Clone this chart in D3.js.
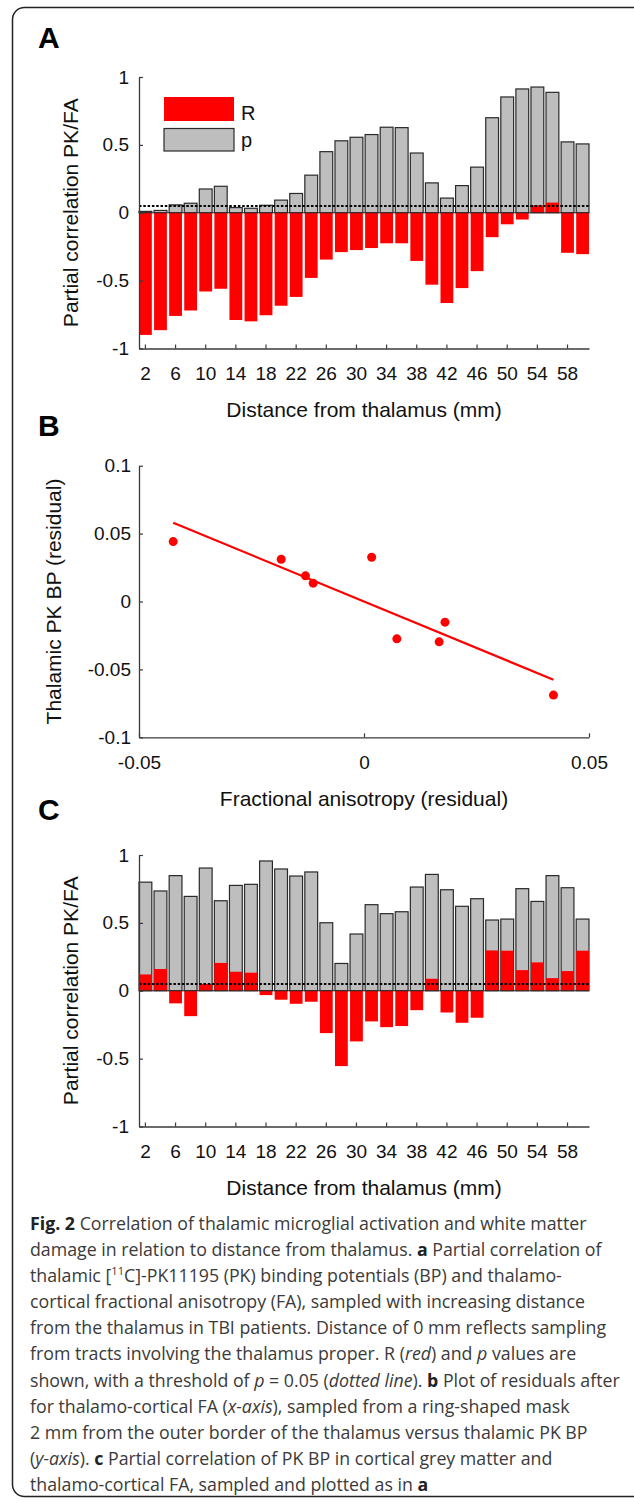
<!DOCTYPE html>
<html>
<head>
<meta charset="utf-8">
<script src="https://cdn.jsdelivr.net/npm/d3@7"></script>
<style>
  html, body { margin: 0; padding: 0; background: #fff; }
  svg text { font-family: "Liberation Sans", Arial, sans-serif; }
</style>
</head>
<body>
<div id="fig"></div>
<script>
// distance of each sampled ring from the thalamus (mm), one bar each
var distances = [2, 4, 6, 8, 10, 12, 14, 16, 18, 20, 22, 24, 26, 28, 30,
                 32, 34, 36, 38, 40, 42, 44, 46, 48, 50, 52, 54, 56, 58, 60];
var distanceTicks = [2, 6, 10, 14, 18, 22, 26, 30, 34, 38, 42, 46, 50, 54, 58];

// panel A - thalamic PK vs thalamo-cortical FA
var rThalamic = [-0.90, -0.865, -0.76, -0.72, -0.58, -0.56, -0.79, -0.80, -0.755, -0.685,
                 -0.62, -0.48, -0.345, -0.29, -0.275, -0.26, -0.225, -0.225, -0.355, -0.53,
                 -0.665, -0.555, -0.43, -0.18, -0.085, -0.05, 0.055, 0.075, -0.295, -0.305];
var pThalamic = [0.01, 0.017, 0.058, 0.07, 0.175, 0.195, 0.038, 0.033, 0.055, 0.093,
                 0.142, 0.277, 0.45, 0.53, 0.556, 0.576, 0.63, 0.627, 0.44, 0.22,
                 0.108, 0.2, 0.336, 0.70, 0.853, 0.912, 0.926, 0.887, 0.522, 0.507];

// panel C - cortical grey matter PK vs thalamo-cortical FA
var rCortical = [0.12, 0.16, -0.093, -0.187, 0.05, 0.205, 0.14, 0.133, -0.032, -0.066,
                 -0.096, -0.081, -0.312, -0.555, -0.373, -0.226, -0.268, -0.26, -0.143, 0.088,
                 -0.16, -0.236, -0.199, 0.297, 0.295, 0.152, 0.209, 0.093, 0.145, 0.295];
var pCortical = [0.80, 0.735, 0.848, 0.695, 0.904, 0.663, 0.776, 0.784, 0.956, 0.897,
                 0.845, 0.875, 0.501, 0.201, 0.418, 0.634, 0.568, 0.582, 0.764, 0.857,
                 0.744, 0.622, 0.678, 0.521, 0.528, 0.752, 0.658, 0.848, 0.759, 0.528];

var pThreshold = 0.05;
var corrTicks = [-1, -0.5, 0, 0.5, 1];

// panel B - residuals, 2 mm ring
var faResid = [-0.0424, -0.0184, -0.0130, -0.0113, 0.0017, 0.0073, 0.0167, 0.0180, 0.0421];
var bpResid = [0.0441, 0.0311, 0.0189, 0.0135, 0.0326, -0.0275, -0.0297, -0.0152, -0.0689];
var faTicks = [-0.05, 0, 0.05];
var bpTicks = [-0.1, -0.05, 0, 0.05, 0.1];

var W = 634, H = 1506;
var axLeft = 139, axRight = 589;
var axisColor = "#3a3a3a";

var svg = d3.select("#fig").append("svg")
    .attr("width", W)
    .attr("height", H);

svg.append("rect").attr("width", W).attr("height", H).attr("fill", "#fff");

// rounded frame, right edge runs off the page
svg.append("rect")
    .attr("x", 12.5).attr("y", 7.5)
    .attr("width", 700).attr("height", 1489)
    .attr("rx", 12)
    .attr("fill", "none")
    .attr("stroke", "#222")
    .attr("stroke-width", 1.5);

var x = d3.scaleBand()
    .domain(distances)
    .range([axLeft, axRight])
    .paddingInner(0.15)
    .paddingOuter(0);

function styleAxis(g) {
    g.select(".domain").attr("stroke", axisColor).attr("stroke-width", 1.3);
    g.selectAll(".tick line").attr("stroke", axisColor).attr("stroke-width", 1.2);
    g.selectAll(".tick text").attr("fill", "#111").style("font-size", "19px")
        .style("font-family", '"Liberation Sans", Arial, sans-serif');
}

function panelLetter(txt, yBase) {
    svg.append("text")
        .attr("x", 38).attr("y", yBase)
        .style("font-size", "30px").style("font-weight", "bold")
        .attr("fill", "#000")
        .text(txt);
}

function barPanel(top, rVals, pVals, withLegend) {
    var y = d3.scaleLinear().domain([-1, 1]).range([top + 271.5, top]);
    var g = svg.append("g");

    g.selectAll("rect.pbar")
        .data(pVals)
        .enter().append("rect")
        .attr("class", "pbar")
        .attr("x", function(d, i) { return x(distances[i]); })
        .attr("width", x.bandwidth())
        .attr("y", function(d) { return y(d); })
        .attr("height", function(d) { return y(0) - y(d); })
        .attr("fill", "#bebebe")
        .attr("stroke", "#2a2a2a")
        .attr("stroke-width", 1.2);

    g.selectAll("rect.rbar")
        .data(rVals)
        .enter().append("rect")
        .attr("class", "rbar")
        .attr("x", function(d, i) { return x(distances[i]); })
        .attr("width", x.bandwidth())
        .attr("y", function(d) { return y(Math.max(0, d)); })
        .attr("height", function(d) { return Math.abs(y(d) - y(0)); })
        .attr("fill", "#ff0000");

    // zero line
    g.append("line")
        .attr("x1", axLeft).attr("x2", axRight)
        .attr("y1", y(0)).attr("y2", y(0))
        .attr("stroke", "#2a2a2a").attr("stroke-width", 1.2);

    // p = 0.05 threshold
    g.append("line")
        .attr("x1", axLeft).attr("x2", axRight)
        .attr("y1", y(pThreshold)).attr("y2", y(pThreshold))
        .attr("stroke", "#000").attr("stroke-width", 2)
        .attr("stroke-dasharray", "2.5,1.8");

    var yAxis = g.append("g")
        .attr("transform", "translate(" + axLeft + ",0)")
        .call(d3.axisLeft(y).tickValues(corrTicks).tickSizeInner(-4).tickSizeOuter(0)
            .tickPadding(10).tickFormat(function(d) { return String(d); }));
    styleAxis(yAxis);

    var xAxis = g.append("g")
        .attr("transform", "translate(0," + y(-1) + ")")
        .call(d3.axisBottom(x).tickValues(distanceTicks).tickSizeInner(-4).tickSizeOuter(0)
            .tickPadding(18));
    styleAxis(xAxis);

    g.append("text")
        .attr("transform", "translate(78," + y(0) + ") rotate(-90)")
        .attr("text-anchor", "middle")
        .style("font-size", "21px")
        .attr("fill", "#111")
        .text("Partial correlation PK/FA");

    g.append("text")
        .attr("x", (axLeft + axRight) / 2)
        .attr("y", y(-1) + 68)
        .attr("text-anchor", "middle")
        .style("font-size", "21px")
        .attr("fill", "#111")
        .text("Distance from thalamus (mm)");

    if (withLegend) {
        var leg = g.append("g").attr("transform", "translate(164," + (top + 20) + ")");
        leg.append("rect").attr("x", 0).attr("y", 0).attr("width", 70).attr("height", 24)
            .attr("fill", "#ff0000");
        leg.append("rect").attr("x", 0).attr("y", 31.5).attr("width", 70).attr("height", 22.5)
            .attr("fill", "#bebebe").attr("stroke", "#2a2a2a").attr("stroke-width", 1.2);
        leg.append("text").attr("x", 77).attr("y", 22.5)
            .style("font-size", "20px").attr("fill", "#111").text("R");
        leg.append("text").attr("x", 77).attr("y", 50)
            .style("font-size", "20px").attr("fill", "#111").text("p");
    }
}

// ---- panel A ----
panelLetter("A", 48);
barPanel(77, rThalamic, pThalamic, true);

// ---- panel B ----
panelLetter("B", 436);
(function() {
    var bx = d3.scaleLinear().domain([-0.05, 0.05]).range([axLeft, axRight]);
    var by = d3.scaleLinear().domain([-0.1, 0.1]).range([737.3, 465.7]);
    var g = svg.append("g");

    // least squares fit through the residuals
    var mx = d3.mean(faResid), my = d3.mean(bpResid);
    var sxy = d3.sum(faResid, function(v, i) { return (v - mx) * (bpResid[i] - my); });
    var sxx = d3.sum(faResid, function(v) { return (v - mx) * (v - mx); });
    var slope = sxy / sxx, icpt = my - slope * mx;
    var ext = d3.extent(faResid);

    g.append("line")
        .attr("x1", bx(ext[0])).attr("y1", by(icpt + slope * ext[0]))
        .attr("x2", bx(ext[1])).attr("y2", by(icpt + slope * ext[1]))
        .attr("stroke", "#ff0000").attr("stroke-width", 2.2);

    g.selectAll("circle")
        .data(faResid)
        .enter().append("circle")
        .attr("cx", function(d) { return bx(d); })
        .attr("cy", function(d, i) { return by(bpResid[i]); })
        .attr("r", 4.5)
        .attr("fill", "#ff0000");

    var yAxis = g.append("g")
        .attr("transform", "translate(" + axLeft + ",0)")
        .call(d3.axisLeft(by).tickValues(bpTicks).tickSizeInner(-4).tickSizeOuter(0)
            .tickPadding(8).tickFormat(function(d) { return String(d); }));
    styleAxis(yAxis);

    var xAxis = g.append("g")
        .attr("transform", "translate(0," + by(-0.1) + ")")
        .call(d3.axisBottom(bx).tickValues(faTicks).tickSizeInner(-4).tickSizeOuter(0)
            .tickPadding(18).tickFormat(function(d) { return String(d); }));
    styleAxis(xAxis);

    g.append("text")
        .attr("transform", "translate(61," + by(0) + ") rotate(-90)")
        .attr("text-anchor", "middle")
        .style("font-size", "21px")
        .attr("fill", "#111")
        .text("Thalamic PK BP (residual)");

    g.append("text")
        .attr("x", (axLeft + axRight) / 2)
        .attr("y", 806)
        .attr("text-anchor", "middle")
        .style("font-size", "21px")
        .attr("fill", "#111")
        .text("Fractional anisotropy (residual)");
})();

// ---- panel C ----
panelLetter("C", 820);
barPanel(855, rCortical, pCortical, false);

// ---- caption ----
var captionLines = [
    [["Fig. 2", "b"], [" Correlation of thalamic microglial activation and white matter"]],
    [["damage in relation to distance from thalamus. "], ["a", "b"], [" Partial correlation of"]],
    [["thalamic ["], ["11", "sup"], ["C]-PK11195 (PK) binding potentials (BP) and thalamo-"]],
    [["cortical fractional anisotropy (FA), sampled with increasing distance"]],
    [["from the thalamus in TBI patients. Distance of 0 mm reflects sampling"]],
    [["from tracts involving the thalamus proper. R ("], ["red", "i"], [") and "], ["p", "i"], [" values are"]],
    [["shown, with a threshold of "], ["p", "i"], [" = 0.05 ("], ["dotted line", "i"], ["). "], ["b", "b"], [" Plot of residuals after"]],
    [["for thalamo-cortical FA ("], ["x-axis", "i"], ["), sampled from a ring-shaped mask"]],
    [["2 mm from the outer border of the thalamus versus thalamic PK BP"]],
    [["("], ["y-axis", "i"], ["). "], ["c", "b"], [" Partial correlation of PK BP in cortical grey matter and"]],
    [["thalamo-cortical FA, sampled and plotted as in "], ["a", "b"]]
];

var cap = svg.append("g");
var capTexts = [];
captionLines.forEach(function(line, li) {
    var t = cap.append("text")
        .attr("x", 0)
        .attr("y", 1230 + li * 26.1)
        .style("font-family", '"Open Sans", "Noto Sans", sans-serif')
        .style("font-size", "17.5px")
        .attr("fill", "#3a3a3a");
    line.forEach(function(seg) {
        var ts = t.append("tspan").text(seg[0]);
        if (seg[1] === "b") ts.style("font-weight", "bold").attr("fill", "#222");
        if (seg[1] === "i") ts.style("font-style", "italic");
        if (seg[1] === "sup") {
            ts.style("font-size", "11px").attr("dy", -7);
        }
    });
    // undo superscript shift for following text
    t.selectAll("tspan").each(function(d, i, nodes) {
        if (i > 0 && nodes[i - 1].getAttribute("dy") === "-7") d3.select(this).attr("dy", 7);
    });
    capTexts.push(t);
});
// squeeze the caption to the column width of the original
var widest = capTexts[6].node().getComputedTextLength();
var sx = 590 / widest;
cap.attr("transform", "translate(30,0) scale(" + sx + ",1)");
</script>
</body>
</html>
